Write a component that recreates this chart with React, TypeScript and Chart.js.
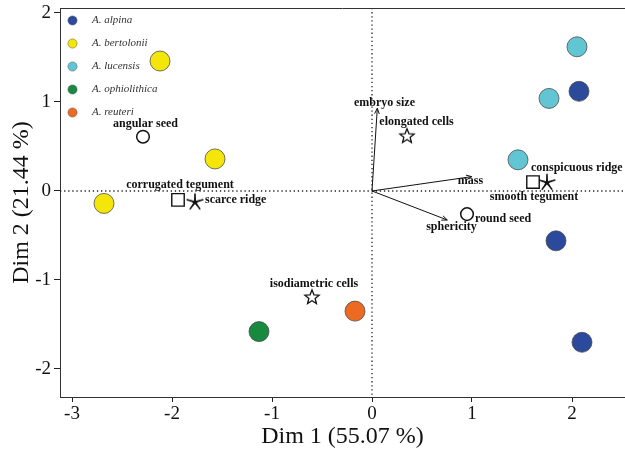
import React, { useEffect, useRef } from 'react';
import { Chart, registerables } from 'chart.js';

Chart.register(...registerables);

const SERIF = "'Liberation Serif', 'Times New Roman', Times, serif";

// Species (active individuals)
const speciesNames = ['A. alpina', 'A. bertolonii', 'A. lucensis', 'A. ophiolithica', 'A. reuteri'];
const speciesColors = ['#2b4a9c', '#f5e60a', '#62c5d3', '#178a3f', '#ec6a22'];
const alpinaX = [2.07, 1.84, 2.1];
const alpinaY = [1.12, -0.56, -1.7];
const bertoloniiX = [-2.12, -1.57, -2.68];
const bertoloniiY = [1.46, 0.36, -0.14];
const lucensisX = [2.05, 1.77, 1.46];
const lucensisY = [1.62, 1.04, 0.35];
const ophiolithicaX = [-1.13];
const ophiolithicaY = [-1.58];
const reuteriX = [-0.17];
const reuteriY = [-1.35];

// Quantitative variables (arrows)
const vectorNames = ['embryo size', 'mass', 'sphericity'];
const vectorX = [0.053, 0.997, 0.753];
const vectorY = [0.929, 0.161, -0.326];
const vectorLabelX = [0.125, 0.985, 0.795];
const vectorLabelY = [0.989, 0.112, -0.404];

// Qualitative supplementary categories
const suppNames = ['angular seed', 'round seed', 'corrugated tegument', 'smooth tegument', 'scarce ridge', 'conspicuous ridge', 'elongated cells', 'isodiametric cells'];
const suppShapes = ['circle', 'circle', 'square', 'square', 'asterisk', 'asterisk', 'star', 'star'];
const suppX = [-2.29, 0.95, -1.94, 1.61, -1.77, 1.75, 0.35, -0.6];
const suppY = [0.61, -0.26, -0.1, 0.1, -0.12, 0.1, 0.62, -1.19];
const suppLabelX = [-2.265, 1.03, -1.92, 1.62, -1.67, 1.59, 0.445, -0.58];
const suppLabelY = [0.753, -0.315, 0.067, -0.064, -0.101, 0.262, 0.775, -1.045];
const suppLabelAlign = ['center', 'left', 'center', 'center', 'left', 'left', 'center', 'center'];

const xTicks = [-3, -2, -1, 0, 1, 2];
const yTicks = [-2, -1, 0, 1, 2];
const xTitle = 'Dim 1 (55.07 %)';
const yTitle = 'Dim 2 (21.44 %)';

const zip = (xs: number[], ys: number[]) => xs.map((x, i) => ({ x, y: ys[i] }));

function starPath(ctx: CanvasRenderingContext2D, cx: number, cy: number, R: number, r: number) {
  ctx.beginPath();
  for (let k = 0; k < 10; k++) {
    const a = -Math.PI / 2 + (k * Math.PI) / 5;
    const rad = k % 2 === 0 ? R : r;
    const px = cx + rad * Math.cos(a);
    const py = cy + rad * Math.sin(a);
    if (k === 0) ctx.moveTo(px, py);
    else ctx.lineTo(px, py);
  }
  ctx.closePath();
}

function makeAsterisk(): HTMLCanvasElement {
  const c = document.createElement('canvas');
  c.width = 20; c.height = 20;
  const g = c.getContext('2d')!;
  g.strokeStyle = '#111';
  g.lineWidth = 1.6;
  g.lineCap = 'round';
  g.beginPath();
  for (let k = 0; k < 5; k++) {
    const a = -Math.PI / 2 + (k * 2 * Math.PI) / 5;
    g.moveTo(10, 10.5);
    g.lineTo(10 + 8.2 * Math.cos(a), 10.5 + 8.2 * Math.sin(a));
  }
  g.stroke();
  g.fillStyle = '#111';
  starPath(g, 10, 10.5, 7, 1.8);
  g.fill();
  return c;
}

function makeOpenStar(): HTMLCanvasElement {
  const c = document.createElement('canvas');
  c.width = 20; c.height = 20;
  const g = c.getContext('2d')!;
  g.fillStyle = '#fff';
  g.strokeStyle = '#111';
  g.lineWidth = 1.3;
  g.lineJoin = 'miter';
  starPath(g, 10, 10.5, 7.5, 3.3);
  g.fill();
  g.stroke();
  return c;
}

const noPad = (s: any) => {
  s.paddingTop = 0;
  s.paddingBottom = 0;
  s.paddingLeft = 0;
  s.paddingRight = 0;
};

export default function App() {
  const ref = useRef<HTMLCanvasElement | null>(null);

  useEffect(() => {
    if (!ref.current) return;
    const asterisk = makeAsterisk();
    const openStar = makeOpenStar();

    const speciesData = [
      zip(alpinaX, alpinaY),
      zip(bertoloniiX, bertoloniiY),
      zip(lucensisX, lucensisY),
      zip(ophiolithicaX, ophiolithicaY),
      zip(reuteriX, reuteriY),
    ];

    const speciesDatasets = speciesNames.map((name, i) => ({
      type: 'scatter' as const,
      label: name,
      data: speciesData[i],
      pointRadius: 10,
      pointHoverRadius: 10,
      backgroundColor: speciesColors[i],
      borderColor: 'rgba(70,70,70,0.75)',
      borderWidth: 1,
      order: 1,
    }));

    const shapeStyle = (shape: string) => {
      if (shape === 'circle') return { pointStyle: 'circle', pointRadius: 6.3, borderWidth: 1.5 };
      if (shape === 'square') return { pointStyle: 'rect', pointRadius: 8.8, borderWidth: 1.4 };
      if (shape === 'asterisk') return { pointStyle: asterisk, pointRadius: 9, borderWidth: 0 };
      return { pointStyle: openStar, pointRadius: 9, borderWidth: 0 };
    };

    const suppDatasets = ['circle', 'square', 'asterisk', 'star'].map((shape) => {
      const idx = suppShapes.map((s, i) => (s === shape ? i : -1)).filter((i) => i >= 0);
      const st = shapeStyle(shape);
      return {
        type: 'scatter' as const,
        label: shape,
        data: idx.map((i) => ({ x: suppX[i], y: suppY[i] })),
        pointStyle: st.pointStyle as any,
        pointRadius: st.pointRadius,
        pointHoverRadius: st.pointRadius,
        backgroundColor: '#ffffff',
        borderColor: '#111111',
        borderWidth: st.borderWidth,
        order: 2,
      };
    });

    const vectorDatasets = vectorNames.map((name, i) => ({
      type: 'line' as const,
      label: name,
      data: [{ x: 0, y: 0 }, { x: vectorX[i], y: vectorY[i] }],
      borderColor: '#111',
      borderWidth: 1,
      pointRadius: 0,
      fill: false,
      order: 3,
    }));

    const zeroLines = {
      id: 'zeroLines',
      beforeDatasetsDraw(chart: any) {
        const { ctx, chartArea: a, scales } = chart;
        const x0 = scales.x.getPixelForValue(0);
        const y0 = scales.y.getPixelForValue(0);
        ctx.save();
        ctx.strokeStyle = '#222';
        ctx.lineWidth = 1.3;
        ctx.setLineDash([1.3, 2.8]);
        ctx.beginPath();
        ctx.moveTo(x0, a.top);
        ctx.lineTo(x0, a.bottom);
        ctx.moveTo(a.left, y0);
        ctx.lineTo(a.right, y0);
        ctx.stroke();
        ctx.restore();
      },
    };

    const overlay = {
      id: 'overlay',
      afterDatasetsDraw(chart: any) {
        const { ctx, scales } = chart;
        const xs = scales.x, ys = scales.y;
        ctx.save();
        // arrowheads
        ctx.strokeStyle = '#111';
        ctx.lineWidth = 1;
        vectorNames.forEach((_, i) => {
          const x0 = xs.getPixelForValue(0), y0 = ys.getPixelForValue(0);
          const x1 = xs.getPixelForValue(vectorX[i]), y1 = ys.getPixelForValue(vectorY[i]);
          const ang = Math.atan2(y1 - y0, x1 - x0);
          const L = 6, spread = 0.4;
          ctx.beginPath();
          ctx.moveTo(x1 - L * Math.cos(ang - spread), y1 - L * Math.sin(ang - spread));
          ctx.lineTo(x1, y1);
          ctx.lineTo(x1 - L * Math.cos(ang + spread), y1 - L * Math.sin(ang + spread));
          ctx.stroke();
        });
        // labels
        ctx.fillStyle = '#111';
        ctx.font = `bold 12px ${SERIF}`;
        ctx.textBaseline = 'middle';
        vectorNames.forEach((name, i) => {
          ctx.textAlign = 'center';
          ctx.fillText(name, xs.getPixelForValue(vectorLabelX[i]), ys.getPixelForValue(vectorLabelY[i]));
        });
        suppNames.forEach((name, i) => {
          ctx.textAlign = suppLabelAlign[i] as CanvasTextAlign;
          ctx.fillText(name, xs.getPixelForValue(suppLabelX[i]), ys.getPixelForValue(suppLabelY[i]));
        });
        ctx.restore();
      },
      afterDraw(chart: any) {
        const { ctx, chartArea: a } = chart;
        ctx.save();
        // top frame line
        ctx.strokeStyle = '#333';
        ctx.lineWidth = 1;
        ctx.beginPath();
        ctx.moveTo(a.left, a.top + 0.5);
        ctx.lineTo(a.right, a.top + 0.5);
        ctx.stroke();
        // legend
        speciesNames.forEach((name, i) => {
          const cy = a.top + 12.5 + i * 23;
          const cx = a.left + 12.5;
          ctx.beginPath();
          ctx.arc(cx, cy, 4.6, 0, Math.PI * 2);
          ctx.fillStyle = speciesColors[i];
          ctx.fill();
          ctx.strokeStyle = 'rgba(80,80,80,0.6)';
          ctx.lineWidth = 0.8;
          ctx.stroke();
          ctx.fillStyle = '#333';
          ctx.font = `italic 11px ${SERIF}`;
          ctx.textAlign = 'left';
          ctx.textBaseline = 'middle';
          ctx.fillText(name, a.left + 32, cy);
        });
        ctx.restore();
      },
    };

    const chart = new Chart(ref.current, {
      type: 'scatter',
      data: { datasets: [...speciesDatasets, ...suppDatasets, ...vectorDatasets] as any },
      plugins: [zeroLines, overlay],
      options: {
        animation: false,
        responsive: false,
        events: [],
        layout: { autoPadding: false, padding: { top: 8, right: 0, left: 0, bottom: 0 } },
        plugins: { legend: { display: false }, tooltip: { enabled: false } },
        scales: {
          x: {
            type: 'linear',
            min: -3.12,
            max: 2.53,
            afterBuildTicks: (s: any) => { s.ticks = xTicks.map((v) => ({ value: v })); },
            afterFit: (s: any) => { s.height = 58; noPad(s); },
            grid: { drawOnChartArea: false, drawTicks: true, tickLength: 5, color: '#222' },
            border: { display: true, color: '#333', width: 1 },
            ticks: {
              font: { family: SERIF, size: 19 },
              color: '#111',
              padding: 1,
              maxRotation: 0,
              autoSkip: false,
              callback: (v: any) => String(v),
            },
            title: {
              display: true,
              text: xTitle,
              font: { family: SERIF, size: 24 },
              color: '#111',
              padding: { top: 0, bottom: 4 },
            },
          },
          y: {
            type: 'linear',
            min: -2.315,
            max: 2.056,
            afterBuildTicks: (s: any) => { s.ticks = yTicks.map((v) => ({ value: v })); },
            afterFit: (s: any) => { s.width = 60; noPad(s); },
            grid: { drawOnChartArea: false, drawTicks: true, tickLength: 6, color: '#222' },
            border: { display: true, color: '#333', width: 1 },
            ticks: {
              font: { family: SERIF, size: 19 },
              color: '#111',
              padding: 3,
              autoSkip: false,
              callback: (v: any) => String(v),
            },
            title: {
              display: true,
              text: yTitle,
              font: { family: SERIF, size: 24 },
              color: '#111',
              padding: { top: 7, bottom: 0 },
            },
          },
        },
      } as any,
    });
    return () => chart.destroy();
  }, []);

  return (
    <div style={{ position: 'fixed', left: 0, top: 0, width: 625, height: 455, background: '#fff' }}>
      <canvas ref={ref} width={625} height={455} style={{ display: 'block' }} />
    </div>
  );
}
